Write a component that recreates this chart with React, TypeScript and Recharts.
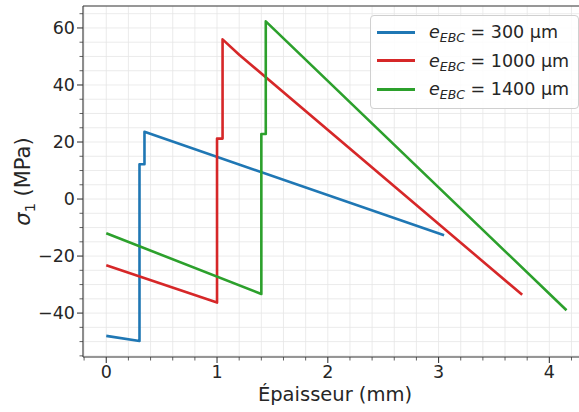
import { LineChart, Line, XAxis, YAxis, CartesianGrid, ReferenceLine } from 'recharts';

// stress profiles sigma_1 (MPa) vs thickness (mm), one per EBC thickness
const ebc300 = [
  { x: 0, y: -48 },
  { x: 0.3, y: -49.8 },
  { x: 0.3, y: 12.2 },
  { x: 0.345, y: 12.2 },
  { x: 0.345, y: 23.6 },
  { x: 3.05, y: -12.7 },
];
const ebc1000 = [
  { x: 0, y: -23.2 },
  { x: 1.0, y: -36.3 },
  { x: 1.0, y: 21.2 },
  { x: 1.05, y: 21.2 },
  { x: 1.05, y: 56 },
  { x: 1.2, y: 50.6 },
  { x: 3.755, y: -33.6 },
];
const ebc1400 = [
  { x: 0, y: -12 },
  { x: 1.4, y: -33.3 },
  { x: 1.4, y: 22.8 },
  { x: 1.44, y: 22.8 },
  { x: 1.44, y: 62.3 },
  { x: 4.155, y: -39 },
];

const X_MAJOR = [0, 1, 2, 3, 4];
const X_TICKS = [-0.2, 0, 0.2, 0.4, 0.6, 0.8, 1, 1.2, 1.4, 1.6, 1.8, 2, 2.2, 2.4, 2.6, 2.8, 3, 3.2, 3.4, 3.6, 3.8, 4, 4.2];
const Y_MAJOR = [-40, -20, 0, 20, 40, 60];
const Y_TICKS = [-55, -50, -45, -40, -35, -30, -25, -20, -15, -10, -5, 0, 5, 10, 15, 20, 25, 30, 35, 40, 45, 50, 55, 60, 65];
const X_DOMAIN = [-0.21, 4.34];
const Y_DOMAIN = [-55.4, 67.7];

const SERIES = [
  { name: '300', data: ebc300, color: '#1f77b4' },
  { name: '1000', data: ebc1000, color: '#d62728' },
  { name: '1400', data: ebc1400, color: '#2ca02c' },
];

const FONT = '"DejaVu Sans", sans-serif';
const AXIS = '#3a3a3a';
const TEXT = '#262626';

const fmt = (v: number) => (v < 0 ? '\u2212' + Math.abs(v) : String(v));

const XTick = (props: any) => {
  const { x, y, payload } = props;
  const major = X_MAJOR.includes(payload.value);
  return (
    <g>
      <line x1={x} x2={x} y1={y} y2={y + (major ? 6 : 3.5)} stroke={AXIS} strokeWidth={major ? 1.1 : 0.8} />
      {major && (
        <text x={x} y={y + 21} textAnchor="middle" fontSize={17.5} fontFamily={FONT} fill={TEXT}>
          {fmt(payload.value)}
        </text>
      )}
    </g>
  );
};

const YTick = (props: any) => {
  const { x, y, payload } = props;
  const major = Y_MAJOR.includes(payload.value);
  return (
    <g>
      <line x1={x - (major ? 6 : 3.5)} x2={x} y1={y} y2={y} stroke={AXIS} strokeWidth={major ? 1.1 : 0.8} />
      {major && (
        <text x={x - 8} y={y + 6.3} textAnchor="end" fontSize={17.5} fontFamily={FONT} fill={TEXT}>
          {fmt(payload.value)}
        </text>
      )}
    </g>
  );
};

const YLabel = ({ viewBox }: any) => {
  const cx = viewBox.x + 7;
  const cy = viewBox.y + viewBox.height / 2;
  return (
    <text
      x={cx}
      y={cy}
      transform={`rotate(-90, ${cx}, ${cy})`}
      textAnchor="middle"
      fontSize={21}
      fontFamily={FONT}
      fill={TEXT}
    >
      <tspan fontStyle="italic">σ</tspan>
      <tspan fontSize={14.5} dy={4.5}>1</tspan>
      <tspan dy={-4.5}> (MPa)</tspan>
    </text>
  );
};

const XLabel = ({ viewBox }: any) => (
  <text
    x={viewBox.x + viewBox.width / 2}
    y={viewBox.y + 44}
    textAnchor="middle"
    fontSize={19.5}
    fontFamily={FONT}
    fill={TEXT}
  >
    Épaisseur (mm)
  </text>
);

function LegendBox() {
  return (
    <div
      style={{
        position: 'absolute',
        left: 370,
        top: 15,
        width: 207,
        height: 92,
        background: 'rgba(255,255,255,0.85)',
        border: '1px solid #d0d0d0',
        borderRadius: 4,
        fontFamily: FONT,
        fontSize: 17.5,
        color: TEXT,
      }}
    >
      {SERIES.map((s, i) => (
        <div key={s.name} style={{ position: 'absolute', left: 0, top: 16 + i * 28.7 - 12, height: 24, display: 'flex', alignItems: 'center', whiteSpace: 'nowrap' }}>
          <div style={{ width: 38, height: 3, background: s.color, marginLeft: 6, marginRight: 14 }} />
          <span>
            <i>e</i>
            <i style={{ fontSize: 12.5, position: 'relative', top: 4 }}>EBC</i> = {s.name} μm
          </span>
        </div>
      ))}
    </div>
  );
}

export default function App() {
  return (
    <div style={{ position: 'absolute', left: 0, top: 0, width: 579, height: 412, overflow: 'hidden', background: '#fff' }}>
      <LineChart width={590} height={412} margin={{ top: 6, right: 3, bottom: 25, left: 23 }}>
        <CartesianGrid stroke="#e6e6e6" strokeWidth={0.8} />
        <XAxis
          dataKey="x"
          type="number"
          domain={X_DOMAIN}
          ticks={X_TICKS}
          interval={0}
          allowDataOverflow
          height={30}
          tickSize={0}
          tickMargin={0}
          tickLine={false}
          tick={<XTick />}
          axisLine={{ stroke: AXIS, strokeWidth: 1.1 }}
          label={<XLabel />}
        />
        <YAxis
          dataKey="y"
          type="number"
          domain={Y_DOMAIN}
          ticks={Y_TICKS}
          interval={0}
          allowDataOverflow
          width={60}
          tickSize={0}
          tickMargin={0}
          tickLine={false}
          tick={<YTick />}
          axisLine={{ stroke: AXIS, strokeWidth: 1.1 }}
          label={<YLabel />}
        />
        <ReferenceLine y={Y_DOMAIN[1]} stroke={AXIS} strokeWidth={1.1} />
        <ReferenceLine x={X_DOMAIN[1]} stroke={AXIS} strokeWidth={1.1} />
        {SERIES.map((s) => (
          <Line
            key={s.name}
            data={s.data}
            dataKey="y"
            type="linear"
            stroke={s.color}
            strokeWidth={2.6}
            strokeLinejoin="round"
            dot={false}
            activeDot={false}
            isAnimationActive={false}
          />
        ))}
      </LineChart>
      <LegendBox />
    </div>
  );
}
